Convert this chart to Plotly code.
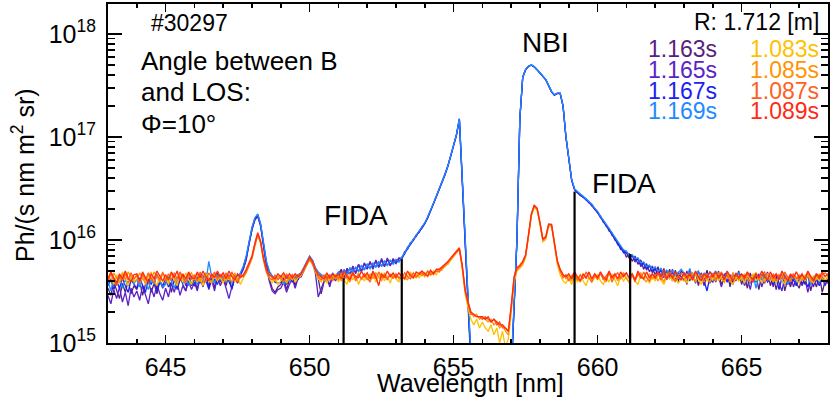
import numpy as np
import plotly.graph_objects as go

# Wavelength sampling grid [nm], 0.1 nm steps from 643.0 to 668.0
wavelength = np.round(np.arange(643.0, 668.0001, 0.1), 1)

UNIT = 1e14  # values below are in units of 1e14 Ph/(s nm m^2 sr)

s1163 = [
34,29,39,33,27,38,31,40,30,36,
33,40,29,37,41,31,38,30,40,34,
38,43,31,41,35,45,37,32,44,36,
42,33,46,37,47,35,43,34,48,39,
45,36,46,33,43,38,47,53,66,95,
127,158,172,138,88,58,42,34,31,35,
37,43,33,41,45,36,46,44,51,59,
67,60,50,42,30,39,46,36,47,41,
47,52,43,53,46,55,48,58,50,59,
52,61,53,63,54,64,55,65,56,66,
60,67,65,77,81,94,98,112,118,134,
146,163,191,224,266,308,366,428,522,648,
818,1045,1480,390,98,29,6,4,4,4,
4,4,4,4,4,4,4,4,4,4,
5,19,98,1480,3780,4480,4830,4980,4790,4480,
4190,3930,3590,3140,2740,2540,2640,2640,1990,1010,
605,378,312,292,270,265,244,235,214,203,
182,171,148,141,122,117,100,95,81,80,
68,74,62,70,58,64,52,59,49,56,
45,55,43,53,41,52,40,51,39,50,
47,37,52,42,49,36,48,41,51,38,
47,39,50,36,46,49,35,48,40,50,
37,46,34,48,39,45,33,47,38,49,
36,45,33,43,47,32,42,35,45,38,
34,44,37,47,32,42,35,46,31,40,
38]

s1165 = [
29,24,33,27,35,25,31,23,34,28,
32,26,36,29,24,34,28,37,30,26,
34,28,38,31,39,29,36,32,40,33,
39,32,43,35,45,33,41,32,44,36,
42,34,27,35,41,42,45,52,64,93,
126,156,170,136,86,55,40,32,30,33,
34,39,31,37,42,34,43,44,50,58,
66,59,48,28,33,40,44,35,46,40,
46,50,42,53,45,56,47,58,49,60,
53,62,52,64,55,66,56,67,57,63,
59,66,67,73,85,90,102,108,122,130,
144,166,189,226,264,311,364,431,519,652,
822,1052,1490,400,102,31,7,4,4,4,
4,4,4,4,4,4,4,4,4,4,
5,20,102,1510,3810,4510,4860,5010,4810,4510,
4210,3960,3610,3160,2760,2560,2660,2660,2010,995,
595,383,308,288,278,259,251,229,221,197,
188,165,155,135,129,111,106,90,86,75,
77,66,72,61,67,55,61,51,57,48,
54,45,53,43,51,42,52,40,49,44,
41,50,40,48,38,49,45,36,47,41,
39,48,44,35,47,40,46,37,48,41,
46,36,43,33,45,39,47,35,42,46,
44,35,46,38,32,44,37,46,35,42,
45,36,42,31,41,35,46,38,43,36,
42]

s1167 = [
36,42,33,40,34,43,36,31,41,37,
34,43,36,31,42,37,44,32,40,36,
42,35,39,45,33,41,46,36,43,38,
36,44,38,46,40,34,45,41,37,46,
39,46,40,34,44,45,47,55,69,99,
131,162,177,142,92,61,49,43,39,38,
39,44,37,43,39,45,41,47,53,61,
69,63,53,48,45,42,39,46,41,45,
48,45,51,47,53,49,54,50,56,52,
58,53,59,55,61,56,62,57,63,59,
64,62,67,75,83,92,100,110,120,132,
145,165,190,225,265,310,365,430,520,650,
820,1050,1500,400,100,30,7,4,4,4,
4,4,4,4,4,4,4,4,4,4,
5,21,100,1500,3800,4500,4850,5000,4800,4500,
4200,3950,3600,3150,2750,2550,2650,2650,2000,1000,
600,382,310,287,276,260,249,230,219,199,
186,167,153,137,127,113,104,92,85,77,
75,68,70,64,65,58,59,53,56,50,
52,47,51,45,49,44,48,43,47,42,
48,43,46,41,47,42,45,40,32,44,
46,40,47,42,45,39,44,38,46,41,
44,40,46,38,44,40,43,37,45,39,
42,37,44,33,43,37,42,38,41,36,
43,38,41,35,42,37,41,36,43,38,
41]

s1169 = [
40,32,43,37,44,34,41,36,45,38,
41,35,44,38,33,42,37,46,40,35,
37,44,40,34,42,47,38,43,36,45,
42,37,46,43,39,62,44,38,46,41,
45,39,44,38,47,41,48,56,70,100,
133,164,179,143,93,62,50,45,43,42,
43,37,45,40,46,42,46,48,54,62,
70,64,54,49,46,44,42,41,48,44,
49,46,52,46,54,48,55,49,57,51,
58,53,60,54,62,55,63,56,64,58,
65,61,68,76,84,93,101,111,121,133,
147,167,192,227,267,312,367,432,523,653,
823,1055,1510,410,104,32,8,4,4,4,
4,4,4,4,4,4,4,4,4,4,
6,22,103,1520,3820,4520,4870,5020,4820,4520,
4220,3970,3620,3170,2770,2570,2670,2670,2020,1020,
610,385,314,294,279,266,252,236,222,204,
190,170,156,141,130,117,106,96,87,80,
78,71,72,66,67,60,61,55,57,52,
55,49,53,47,51,46,50,45,48,52,
48,43,53,42,47,50,41,48,43,49,
46,50,41,48,43,49,40,46,42,48,
45,40,48,42,46,34,45,41,47,42,
43,46,38,45,40,46,37,43,46,40,
39,45,40,46,37,43,47,39,45,40,
43]

s1083 = [
41,48,37,46,39,49,43,36,46,40,
47,38,45,37,44,49,40,36,46,39,
44,37,47,41,36,46,39,48,41,37,
46,39,44,36,47,41,38,46,40,44,
38,46,41,47,39,44,37,43,48,56,
66,87,111,92,63,48,42,38,43,37,
40,45,38,43,46,39,43,45,50,57,
64,58,49,42,39,46,38,44,41,47,
39,46,41,37,47,41,45,37,44,40,
46,40,47,39,44,48,40,45,38,47,
42,39,47,41,45,49,42,47,43,48,
44,49,45,50,46,52,51,57,58,64,
69,75,80,52,30,22,17,15,17,14,
16,14,13,15,12,14,10,13,9,11,
19,39,50,53,57,67,106,170,208,194,
140,96,101,135,136,90,58,46,40,38,
43,37,45,39,46,40,36,44,39,43,
46,40,37,44,39,47,41,36,45,40,
44,38,46,40,37,47,41,45,38,44,
40,46,41,37,44,48,40,45,38,42,
45,38,44,40,47,41,37,45,40,44,
41,47,40,44,38,46,41,37,44,40,
44,38,46,41,47,40,44,38,42,46,
40,44,38,46,41,37,44,40,46,41,
38,44,40,46,41,38,44,40,46,41,
43]

s1085 = [
45,39,48,42,38,47,41,49,43,39,
41,48,43,38,47,41,49,44,39,47,
45,40,48,43,39,47,42,38,45,48,
41,47,39,45,48,42,39,47,41,45,
46,40,45,39,48,41,44,45,51,59,
69,91,116,96,66,51,47,43,40,45,
41,46,39,44,41,45,45,47,52,59,
67,61,51,47,43,40,46,41,45,42,
45,40,48,42,39,47,42,48,41,45,
41,47,42,48,44,40,48,42,46,44,
46,42,48,43,41,47,45,43,48,45,
48,44,49,46,50,50,54,55,61,65,
71,77,83,56,33,25,20,18,19,17,
18,17,16,17,15,16,14,15,13,12,
21,41,53,56,61,71,111,177,217,202,
146,101,106,141,141,96,63,52,47,42,
45,40,47,42,39,47,42,48,41,45,
41,47,42,39,48,42,46,40,45,48,
42,39,47,41,45,48,42,39,47,42,
46,40,45,39,48,42,46,40,45,42,
40,47,42,48,39,45,41,47,42,39,
45,40,48,42,39,47,42,48,41,45,
41,47,42,39,45,48,41,45,39,47,
45,39,47,42,48,40,45,39,47,42,
46,40,45,48,39,45,41,47,42,39,
45]

s1087 = [
40,47,41,36,46,40,47,41,48,42,
45,38,47,41,48,42,38,47,41,49,
40,47,41,48,42,49,43,39,47,41,
46,40,49,42,39,48,43,49,42,46,
41,48,42,49,43,39,46,44,49,57,
67,89,113,94,64,49,43,41,46,41,
45,39,47,41,46,42,44,46,51,58,
65,59,50,44,41,46,41,46,40,45,
42,48,41,46,42,49,40,46,42,47,
43,39,48,42,49,43,46,41,47,42,
47,43,42,48,44,42,48,44,46,48,
45,50,46,48,50,49,53,57,60,66,
70,76,82,55,32,24,19,19,18,18,
17,18,17,16,17,15,16,14,14,13,
22,43,52,55,60,70,110,176,214,200,
145,100,105,140,140,95,62,50,43,46,
40,45,48,41,46,42,49,43,39,46,
42,48,41,45,49,39,45,48,42,46,
48,42,46,39,48,42,49,43,40,47,
42,48,41,46,42,49,43,39,46,47,
46,42,48,41,49,43,46,39,47,43,
47,42,44,49,42,46,39,44,47,42,
46,42,47,43,40,47,42,46,49,41,
42,47,40,46,42,49,43,40,47,43,
41,46,42,49,43,40,47,42,46,48,
45]

s1089 = [
42,49,43,38,47,42,50,43,39,46,
47,40,49,43,38,47,42,50,44,40,
46,41,49,43,50,40,47,42,49,43,
42,49,43,50,44,40,47,43,50,44,
48,42,50,44,41,47,43,46,52,60,
70,93,118,97,67,52,46,44,42,47,
44,48,42,47,43,47,44,47,53,60,
68,62,52,46,44,42,48,43,47,44,
47,42,50,44,41,48,44,43,50,44,
48,42,50,44,36,47,43,50,44,48,
43,48,44,42,50,45,43,49,47,50,
47,45,51,47,52,52,55,58,62,67,
72,78,84,57,33,25,20,19,18,18,
18,17,18,16,17,16,15,15,14,13,
23,44,54,57,62,72,112,180,218,204,
148,102,108,143,142,97,63,52,46,44,
47,42,49,44,40,47,43,49,42,47,
43,49,44,41,50,43,47,42,49,44,
48,43,47,41,50,44,42,49,43,47,
43,49,44,51,42,47,43,49,44,41,
48,43,47,41,50,44,40,47,43,49,
44,49,43,47,41,50,44,40,47,43,
47,43,49,44,41,47,43,50,44,41,
49,43,47,41,50,44,40,47,43,49,
43,47,41,50,44,40,47,43,49,44,
47]

series_labels = ["1.163s", "1.165s", "1.167s", "1.169s",
                 "1.083s", "1.085s", "1.087s", "1.089s"]
series_colors = ["#5a1e7e", "#5b22c8", "#1a22f0", "#1e8cff",
                 "#ffc000", "#ff9400", "#ff6020", "#ff2a12"]
series_values = [s1163, s1165, s1167, s1169, s1083, s1085, s1087, s1089]

# FIDA integration-window markers: wavelength and top of line
fida_wl = [651.18, 653.2, 659.2, 661.13]
fida_top = [4.25e15, 6.5e15, 2.95e16, 7.3e15]
fida_bottom = 1e15

for s in series_values:
    assert len(s) == len(wavelength), len(s)

fig = go.Figure()
for lab, col, vals in zip(series_labels, series_colors, series_values):
    fig.add_trace(go.Scatter(
        x=wavelength, y=np.array(vals, dtype=float) * UNIT,
        mode="lines", name=lab, line=dict(color=col, width=1.3),
        showlegend=False, hoverinfo="skip"))

fx, fy = [], []
for w, t in zip(fida_wl, fida_top):
    fx += [w, w, None]
    fy += [fida_bottom, t, None]
fig.add_trace(go.Scatter(x=fx, y=fy, mode="lines",
                         line=dict(color="black", width=2.2),
                         showlegend=False, hoverinfo="skip"))

L, R, T, B = 108, 2, 4, 58
W, H = 830, 401
pw, ph = W - L - R, H - T - B


def px(x):
    return (x - L) / pw


def py(y):
    return (H - B - y) / ph


FONT = "Liberation Sans, Arial, Helvetica, sans-serif"

fig.update_layout(
    width=W, height=H,
    margin=dict(l=L, r=R, t=T, b=B, pad=0, autoexpand=False),
    plot_bgcolor="white", paper_bgcolor="white",
    showlegend=False,
    font=dict(family=FONT, size=24, color="black"),
)

fig.update_xaxes(
    range=[643, 668], tickmode="linear", tick0=645, dtick=5,
    ticks="inside", ticklen=8, tickwidth=1.5, tickcolor="black",
    showline=True, linewidth=2, linecolor="black", mirror="allticks",
    showgrid=False, zeroline=False, automargin=False,
    tickfont=dict(size=25, family=FONT, color="black"),
    ticklabelstandoff=1,
    minor=dict(ticks="inside", ticklen=4, tickwidth=1.5, tickcolor="black",
               tickmode="linear", tick0=643, dtick=1, showgrid=False),
)

major_y = [1e15, 1e16, 1e17, 1e18]
minor_y = [k * 10.0 ** n for n in (15, 16, 17) for k in range(2, 10)]
fig.update_yaxes(
    type="log", range=[15, 18.291],
    tickmode="array", tickvals=major_y,
    ticktext=["10<sup>15</sup>", "10<sup>16</sup>", "10<sup>17</sup>", "10<sup>18</sup>"],
    ticks="inside", ticklen=14, tickwidth=1.5, tickcolor="black",
    showline=True, linewidth=2, linecolor="black", mirror="allticks",
    showgrid=False, zeroline=False, automargin=False,
    tickfont=dict(size=25, family=FONT, color="black"),
    ticklabelstandoff=5,
    minor=dict(ticks="inside", ticklen=7, tickwidth=1.5, tickcolor="black",
               tickmode="array", tickvals=minor_y, showgrid=False),
)

ann = []


def add_text(text, x, y, size, xanchor="left", color="black", angle=0):
    ann.append(dict(text=text, x=px(x), y=py(y), xref="paper", yref="paper",
                    xanchor=xanchor, yanchor="middle", showarrow=False,
                    textangle=angle, borderpad=0,
                    font=dict(family=FONT, size=size, color=color)))


add_text("#30297", 150, 23, 23)
add_text("Angle between B", 140, 61, 26)
add_text("and LOS:", 140, 92, 26)
add_text("Φ=10°", 140, 123.5, 26)
add_text("NBI", 545, 43, 28, xanchor="center")
add_text("FIDA", 323, 216, 28)
add_text("FIDA", 591, 183, 28)
add_text("R: 1.712 [m]", 820, 21.5, 23, xanchor="right")

row_y = [49, 69.5, 90.5, 111]
for i in range(4):
    add_text(series_labels[i], 718, row_y[i], 23, xanchor="right", color=series_colors[i])
    add_text(series_labels[i + 4], 820, row_y[i], 23, xanchor="right", color=series_colors[i + 4])

add_text("Wavelength [nm]", 470, 383, 25, xanchor="center")
add_text("Ph/(s nm m<sup>2</sup> sr)", 23, 175, 25, xanchor="center", angle=-90)

fig.update_layout(annotations=ann)
fig.write_html(
    "out.html",
    config={"displayModeBar": False, "staticPlot": True},
    post_script="document.body.style.margin='0';document.body.style.padding='0';"
                "document.body.style.overflow='hidden';",
)
